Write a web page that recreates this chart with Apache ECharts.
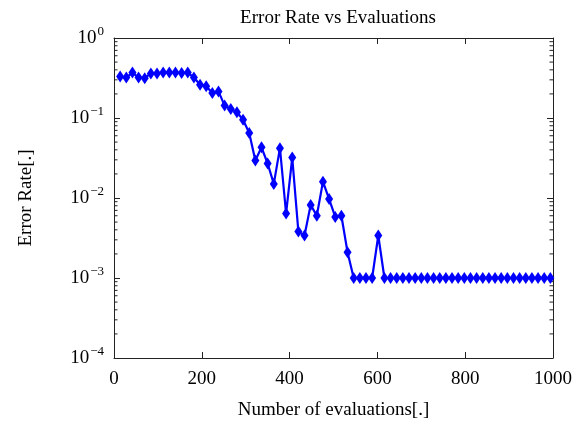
<!DOCTYPE html>
<html>
<head>
<meta charset="utf-8">
<script src="https://cdn.jsdelivr.net/npm/echarts@6/dist/echarts.min.js"></script>
<style>html,body{margin:0;padding:0;background:#fff;}#c{width:580px;height:428px;}</style>
</head>
<body>
<div id="c"></div>
<script>
const evaluations = [14,28,42,56,70,84,98,112,126,140,154,168,182,196,210,224,238,252,266,280,294,308,322,336,350,364,378,392,406,420,434,448,462,476,490,504,518,532,546,560,574,588,602,616,630,644,658,672,686,700,714,728,742,756,770,784,798,812,826,840,854,868,882,896,910,924,938,952,966,980,994];
const errorRate = [0.33,0.32,0.37,0.32,0.315,0.36,0.36,0.37,0.37,0.37,0.365,0.37,0.32,0.26,0.25,0.205,0.215,0.143,0.13,0.118,0.095,0.065,0.0295,0.043,0.027,0.015,0.042,0.0064,0.032,0.0038,0.0034,0.0082,0.006,0.016,0.0097,0.0058,0.006,0.0021,0.001,0.001,0.001,0.001,0.0034,0.001,0.001,0.001,0.001,0.001,0.001,0.001,0.001,0.001,0.001,0.001,0.001,0.001,0.001,0.001,0.001,0.001,0.001,0.001,0.001,0.001,0.001,0.001,0.001,0.001,0.001,0.001,0.001];
const xTicks = [0,200,400,600,800,1000];
const yDecades = [-4,-3,-2,-1,0];

const minorVals = [];
for (let e = yDecades[0]; e < yDecades[yDecades.length-1]; e++) {
  for (let m = 2; m <= 9; m++) minorVals.push([0, m * Math.pow(10, e)]);
}

const font = '"Liberation Serif", "DejaVu Serif", serif';
const axisColor = '#222';
const chart = echarts.init(document.getElementById('c'), null, {renderer: 'canvas'});
const xMin = xTicks[0], xMax = xTicks[xTicks.length-1];
const yMin = Math.pow(10, yDecades[0]), yMax = Math.pow(10, yDecades[yDecades.length-1]);

const baseX = {
  type: 'value', min: xMin, max: xMax, interval: 200,
  axisLine: {show: true, onZero: false, lineStyle: {color: axisColor, width: 1}},
  axisTick: {show: true, inside: true, length: 6, lineStyle: {color: axisColor}},
  splitLine: {show: false}
};
const baseY = {
  type: 'log', logBase: 10, min: yMin, max: yMax,
  axisLine: {show: true, onZero: false, lineStyle: {color: axisColor, width: 1}},
  axisTick: {show: true, inside: true, length: 6, lineStyle: {color: axisColor}},
  splitLine: {show: false}, minorTick: {show: false}
};

chart.setOption({
  animation: false,
  backgroundColor: '#fff',
  title: {
    text: 'Error Rate vs Evaluations', left: 333, top: 4, textAlign: 'center',
    textStyle: {fontFamily: font, fontSize: 19, fontWeight: 'normal', color: '#000'}
  },
  grid: {left: 114, right: 27, top: 38, bottom: 70},
  xAxis: [
    Object.assign({}, baseX, {
      position: 'bottom',
      name: 'Number of evaluations[.]', nameLocation: 'middle', nameGap: 43,
      nameTextStyle: {fontFamily: font, fontSize: 19, color: '#000'},
      axisLabel: {fontFamily: font, fontSize: 19, color: '#000', margin: 12, formatter: v => String(v)}
    }),
    Object.assign({}, baseX, {position: 'top', axisLabel: {show: false}})
  ],
  yAxis: [
    Object.assign({}, baseY, {
      position: 'left',
      name: 'Error Rate[.]', nameLocation: 'middle', nameGap: 78, nameRotate: 90,
      nameTextStyle: {fontFamily: font, fontSize: 19, color: '#000'},
      axisLabel: {
        margin: 10, color: '#000',
        formatter: v => {
          const e = Math.round(Math.log10(v));
          return '{b|10}{s|' + (e < 0 ? '\u2212' + Math.abs(e) : e) + '}';
        },
        rich: {
          b: {fontFamily: font, fontSize: 19, color: '#000'},
          s: {fontFamily: font, fontSize: 13, color: '#000', padding: [0,0,12,1]}
        }
      }
    }),
    Object.assign({}, baseY, {position: 'right', axisLabel: {show: false}})
  ],
  series: [
    {
      type: 'custom', xAxisIndex: 0, yAxisIndex: 0, silent: true, z: 1,
      data: minorVals,
      renderItem: function (params, api) {
        const v = api.value(1);
        const l = api.coord([xMin, v]);
        const r = api.coord([xMax, v]);
        const st = {stroke: axisColor, lineWidth: 1};
        return {type: 'group', children: [
          {type: 'line', shape: {x1: l[0], y1: l[1], x2: l[0] + 3.5, y2: l[1]}, style: st},
          {type: 'line', shape: {x1: r[0] - 3.5, y1: r[1], x2: r[0], y2: r[1]}, style: st}
        ]};
      }
    },
    {
      type: 'line', xAxisIndex: 0, yAxisIndex: 0, z: 3,
      data: evaluations.map((x, i) => [x, errorRate[i]]),
      lineStyle: {color: '#0000ff', width: 2.2},
      itemStyle: {color: '#0000ff'},
      symbol: 'diamond', symbolSize: [8, 12], showSymbol: true
    }
  ]
});
</script>
</body>
</html>
